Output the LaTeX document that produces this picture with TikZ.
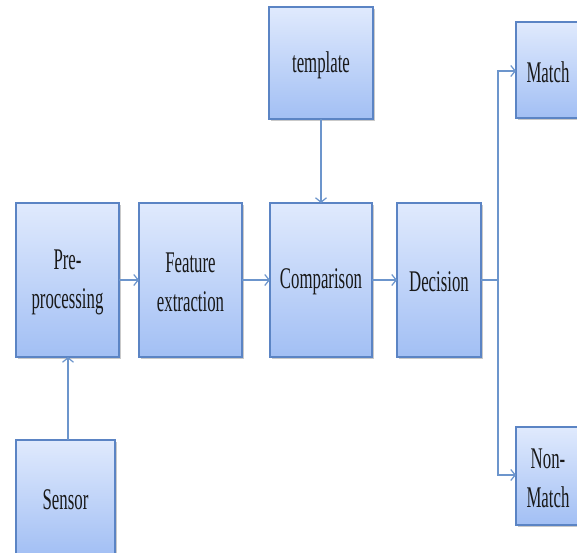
\documentclass[tikz,border=0pt]{standalone}
\usepackage{fontspec}
\setmainfont[FakeStretch=0.56]{Liberation Serif}
\usetikzlibrary{arrows.meta,shadows}
\definecolor{boxline}{HTML}{5B84C4}
\definecolor{conn}{HTML}{6C95CC}
\definecolor{toptone}{HTML}{E0EAFD}
\definecolor{bottone}{HTML}{A2BFF4}
\tikzset{
  box/.style={draw=boxline, line width=1.2pt, top color=toptone, bottom color=bottone,
    inner sep=0pt, outer sep=0pt, anchor=north west,
    drop shadow={shadow xshift=1.5pt, shadow yshift=-2pt, opacity=0.35, fill=black!60}},
  txt/.style={align=center, inner sep=0pt, text=black!90, yshift=-2pt,
    font=\fontsize{30}{39}\selectfont},
  link/.style={draw=conn, line width=1.3pt, -{Straight Barb[length=4.5pt,width=11pt,line width=1.2pt]}},
  plain/.style={draw=conn, line width=1.3pt}
}
\begin{document}
\begin{tikzpicture}[x=1pt,y=-1pt]
\clip (0,0) rectangle (577,552);
\fill[white] (0,0) rectangle (577,552);
\node[box, minimum width=103pt, minimum height=154pt] (pre) at (16,203) {};
\node[box, minimum width=103pt, minimum height=154pt] (feat) at (139,203) {};
\node[box, minimum width=102pt, minimum height=154pt] (comp) at (270,203) {};
\node[box, minimum width=84pt, minimum height=154pt] (dec) at (397,203) {};
\node[box, minimum width=104pt, minimum height=112pt] (tpl) at (269,7) {};
\node[box, minimum width=99pt, minimum height=116pt] (sen) at (16,440) {};
\node[box, minimum width=64pt, minimum height=96pt] (mat) at (516,22) {};
\node[box, minimum width=64pt, minimum height=98pt] (non) at (516,427) {};
\node[txt] (preT) at (pre.center) {Pre-\\processing};
\node[txt] (featT) at (feat.center) {Feature\\extraction};
\node[txt] (compT) at (comp.center) {Comparison};
\node[txt] (decT) at (dec.center) {Decision};
\node[txt] (tplT) at (tpl.center) {template};
\node[txt] (senT) at (sen.center) {Sensor};
\node[txt] (matT) at (mat.center) {Match};
\node[txt] (nonT) at (non.center) {Non-\\Match};
\coordinate (br) at (498,280);
\draw[link] (pre.east) -- (feat.west);
\draw[link] (feat.east) -- (comp.west);
\draw[link] (comp.east) -- (dec.west);
\draw[link] (tpl.south) -- (comp.north);
\draw[link] (sen.north -| 68,0) -- (pre.south -| 68,0);
\draw[plain] (dec.east) -- (br);
\draw[link] (br) |- (mat.west |- 0,71);
\draw[link] (br) |- (non.west |- 0,475);
\end{tikzpicture}
\end{document}
